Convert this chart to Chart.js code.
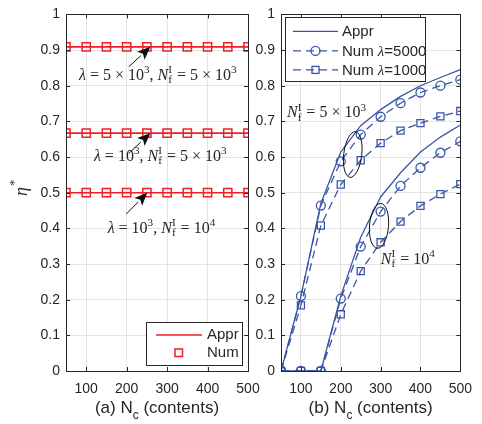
<!DOCTYPE html>
<html>
<head>
<meta charset="utf-8">
<script src="https://cdn.jsdelivr.net/npm/chart.js@4.4.1/dist/chart.umd.min.js"></script>
<style>
  html, body { margin: 0; padding: 0; background: #fff; }
  #wrap { position: relative; width: 482px; height: 424px; }
  #wrap canvas { position: absolute; left: 0; top: 0; }
</style>
</head>
<body>
<div id="wrap">
  <canvas id="chartA" width="482" height="424"></canvas>
  <canvas id="chartB" width="482" height="424"></canvas>
</div>
<script>
// N_c values (x axis of both panels)
const nc = [50, 100, 150, 200, 250, 300, 350, 400, 450, 500];
const xTicks = [100, 200, 300, 400, 500];
const yTicks = [0, 0.1, 0.2, 0.3, 0.4, 0.5, 0.6, 0.7, 0.8, 0.9, 1];
const yTickLabels = ['0', '0.1', '0.2', '0.3', '0.4', '0.5', '0.6', '0.7', '0.8', '0.9', '1'];

// panel (a): eta* flat lines
const etaA1 = [0.909, 0.909, 0.909, 0.909, 0.909, 0.909, 0.909, 0.909, 0.909, 0.909]; // lambda=5e3, Nf=5e3
const etaA2 = [0.667, 0.667, 0.667, 0.667, 0.667, 0.667, 0.667, 0.667, 0.667, 0.667]; // lambda=1e3, Nf=5e3
const etaA3 = [0.5, 0.5, 0.5, 0.5, 0.5, 0.5, 0.5, 0.5, 0.5, 0.5];                     // lambda=1e3, Nf=1e4

// panel (b): Nf = 5e3 (upper group) and Nf = 1e4 (lower group)
const apprHi    = [0, 0.21, 0.47, 0.614, 0.688, 0.733, 0.77, 0.80, 0.823, 0.845];
const num5000Hi = [0, 0.21, 0.464, 0.588, 0.663, 0.713, 0.751, 0.781, 0.80, 0.817];
const num1000Hi = [0, 0.184, 0.408, 0.523, 0.591, 0.639, 0.674, 0.695, 0.714, 0.729];
const apprLo    = [0, 0, 0, 0.21, 0.375, 0.488, 0.556, 0.614, 0.656, 0.69];
const num5000Lo = [0, 0, 0, 0.203, 0.349, 0.447, 0.519, 0.570, 0.612, 0.644];
const num1000Lo = [0, 0, 0, 0.159, 0.28, 0.361, 0.419, 0.463, 0.496, 0.524];

const RED = '#ee1f26';
const BLUE = '#3a55a6';
const INK = '#262626';
const SANS = '"Liberation Sans", Arial, sans-serif';
const SERIF = '"Liberation Serif", "DejaVu Serif", serif';

// draw a small TeX-like string: runs of [text, kind]
// kind: 'i' italic, 'r' roman, 's' sans, '^' superscript, 'ss' stacked sup/sub ([sup, sub])
function mathText(ctx, runs, x, y, size, align) {
  const items = runs.map(([t, k]) => {
    if (k === 'ss') {
      ctx.font = (size * 0.7) + 'px ' + SERIF;
      const w = Math.max(ctx.measureText(t[0]).width, ctx.measureText(t[1]).width);
      return { t, k, w: w + 1 };
    }
    if (k === 's') ctx.font = size + 'px ' + SANS;
    else if (k === 'i') ctx.font = 'italic ' + size + 'px ' + SERIF;
    else ctx.font = (k === '^' ? size * 0.7 : size) + 'px ' + SERIF;
    return { t, k, w: ctx.measureText(t).width };
  });
  const total = items.reduce((a, b) => a + b.w, 0);
  let cx = align === 'center' ? x - total / 2 : x;
  ctx.save();
  ctx.fillStyle = INK;
  ctx.textAlign = 'left';
  ctx.textBaseline = 'alphabetic';
  items.forEach(it => {
    if (it.k === 'ss') {
      ctx.font = (size * 0.7) + 'px ' + SERIF;
      ctx.fillText(it.t[0], cx, y - size * 0.42);
      ctx.fillText(it.t[1], cx, y + size * 0.22);
    } else if (it.k === '^') {
      ctx.font = (size * 0.7) + 'px ' + SERIF;
      ctx.fillText(it.t, cx, y - size * 0.42);
    } else if (it.k === 's') {
      ctx.font = size + 'px ' + SANS;
      ctx.fillText(it.t, cx, y);
    } else {
      ctx.font = (it.k === 'i' ? 'italic ' : '') + size + 'px ' + SERIF;
      ctx.fillText(it.t, cx, y);
    }
    cx += it.w;
  });
  ctx.restore();
  return total;
}

function arrow(ctx, x0, y0, x1, y1) {
  const a = Math.atan2(y1 - y0, x1 - x0);
  const L = 13, W = 5.5;
  const bx = x1 - L * Math.cos(a), by = y1 - L * Math.sin(a);
  ctx.save();
  ctx.strokeStyle = '#111';
  ctx.fillStyle = '#111';
  ctx.lineWidth = 1;
  ctx.beginPath();
  ctx.moveTo(x0, y0);
  ctx.lineTo(bx, by);
  ctx.stroke();
  ctx.beginPath();
  ctx.moveTo(x1, y1);
  ctx.lineTo(bx + W * Math.sin(a), by - W * Math.cos(a));
  ctx.lineTo(bx + 3 * Math.cos(a), by + 3 * Math.sin(a));
  ctx.lineTo(bx - W * Math.sin(a), by + W * Math.cos(a));
  ctx.closePath();
  ctx.fill();
  ctx.restore();
}

// box round the axes with inward ticks on every side
const boxPlugin = {
  id: 'box',
  afterDatasetsDraw(chart) {
    const { ctx, chartArea: a, scales } = chart;
    ctx.save();
    ctx.strokeStyle = INK;
    ctx.lineWidth = 1;
    ctx.beginPath();
    xTicks.forEach(v => {
      const px = Math.round(scales.x.getPixelForValue(v)) + 0.5;
      ctx.moveTo(px, a.bottom); ctx.lineTo(px, a.bottom - 4);
      ctx.moveTo(px, a.top); ctx.lineTo(px, a.top + 4);
    });
    yTicks.forEach(v => {
      const py = Math.round(scales.y.getPixelForValue(v)) + 0.5;
      ctx.moveTo(a.left, py); ctx.lineTo(a.left + 4, py);
      ctx.moveTo(a.right, py); ctx.lineTo(a.right - 4, py);
    });
    ctx.stroke();
    ctx.strokeRect(Math.round(a.left) + 0.5, Math.round(a.top) + 0.5,
      Math.round(a.right - a.left), Math.round(a.bottom - a.top));
    ctx.restore();
  }
};

function axisTitle(ctx, prefix, cx, baseline) {
  ctx.save();
  ctx.fillStyle = INK;
  ctx.textBaseline = 'alphabetic';
  ctx.textAlign = 'left';
  ctx.font = '17px ' + SANS;
  const w1 = ctx.measureText(prefix + ' N').width;
  const w3 = ctx.measureText(' (contents)').width;
  ctx.font = '12px ' + SANS;
  const w2 = ctx.measureText('c').width;
  let x = cx - (w1 + w2 + w3) / 2;
  ctx.font = '17px ' + SANS;
  ctx.fillText(prefix + ' N', x, baseline);
  ctx.font = '12px ' + SANS;
  ctx.fillText('c', x + w1, baseline + 6);
  ctx.font = '17px ' + SANS;
  ctx.fillText(' (contents)', x + w1 + w2, baseline);
  ctx.restore();
}

const annotA = {
  id: 'annotA',
  afterDraw(chart) {
    const { ctx, scales: { x, y }, chartArea: a } = chart;
    const px = v => x.getPixelForValue(v), py = v => y.getPixelForValue(v);
    arrow(ctx, px(205), py(0.853), px(258.5), py(0.909));
    arrow(ctx, px(205), py(0.61), px(258.5), py(0.667));
    arrow(ctx, px(199), py(0.44), px(251), py(0.5));
    mathText(ctx, [['λ', 'i'], [' = 5 × 10', 'r'], ['3', '^'], [', ', 'r'], ['N', 'i'], [['I', 'f'], 'ss'], [' = 5 × 10', 'r'], ['3', '^']],
      px(277), py(0.817), 16, 'center');
    mathText(ctx, [['λ', 'i'], [' = 10', 'r'], ['3', '^'], [', ', 'r'], ['N', 'i'], [['I', 'f'], 'ss'], [' = 5 × 10', 'r'], ['3', '^']],
      px(283), py(0.589), 16, 'center');
    mathText(ctx, [['λ', 'i'], [' = 10', 'r'], ['3', '^'], [', ', 'r'], ['N', 'i'], [['I', 'f'], 'ss'], [' = 10', 'r'], ['4', '^']],
      px(286), py(0.388), 16, 'center');

    // legend
    const lx = a.right - 102, ly = a.bottom - 49, lw = 96, lh = 43;
    ctx.save();
    ctx.fillStyle = '#fff';
    ctx.fillRect(lx, ly, lw, lh);
    ctx.strokeStyle = INK;
    ctx.lineWidth = 1;
    ctx.strokeRect(Math.round(lx) + 0.5, Math.round(ly) + 0.5, lw, lh);
    ctx.strokeStyle = RED;
    ctx.lineWidth = 1.5;
    ctx.beginPath();
    ctx.moveTo(lx + 10, ly + 13); ctx.lineTo(lx + 56, ly + 13);
    ctx.stroke();
    ctx.strokeRect(lx + 29, ly + 27, 7.5, 7.5);
    ctx.fillStyle = INK;
    ctx.font = '15px ' + SANS;
    ctx.textBaseline = 'middle';
    ctx.fillText('Appr', lx + 61, ly + 13);
    ctx.fillText('Num', lx + 61, ly + 31);
    ctx.restore();

    axisTitle(ctx, '(a)', (a.left + a.right) / 2, 413);

    // y label eta*
    ctx.save();
    ctx.translate(27, 196);
    ctx.rotate(-Math.PI / 2);
    ctx.fillStyle = INK;
    ctx.font = 'italic 18px ' + SERIF;
    ctx.fillText('η', 0, 0);
    ctx.font = '13px ' + SERIF;
    ctx.fillText('*', 10, -9);
    ctx.restore();
  }
};

const annotB = {
  id: 'annotB',
  afterDraw(chart) {
    const { ctx, scales: { x, y }, chartArea: a } = chart;
    const px = v => x.getPixelForValue(v), py = v => y.getPixelForValue(v);
    ctx.save();
    ctx.strokeStyle = '#111';
    ctx.lineWidth = 1;
    ctx.beginPath();
    ctx.ellipse(px(230), py(0.607), 9, 23, 0.12, 0, Math.PI * 2);
    ctx.stroke();
    ctx.beginPath();
    ctx.ellipse(px(296), py(0.407), 9.5, 22.5, 0.08, 0, Math.PI * 2);
    ctx.stroke();
    ctx.restore();
    mathText(ctx, [['N', 'i'], [['I', 'f'], 'ss'], [' = 5 × 10', 'r'], ['3', '^']], px(65), py(0.711), 16, 'left');
    mathText(ctx, [['N', 'i'], [['I', 'f'], 'ss'], [' = 10', 'r'], ['4', '^']], px(300.5), py(0.301), 16, 'left');

    // legend
    const lx = a.left + 4, ly = a.top + 3, lw = 140, lh = 64;
    ctx.save();
    ctx.fillStyle = '#fff';
    ctx.fillRect(lx, ly, lw, lh);
    ctx.strokeStyle = INK;
    ctx.lineWidth = 1;
    ctx.strokeRect(Math.round(lx) + 0.5, Math.round(ly) + 0.5, lw, lh);
    const rows = [ly + 14, ly + 33.5, ly + 52.5];
    ctx.strokeStyle = BLUE;
    ctx.lineWidth = 1.3;
    ctx.beginPath();
    ctx.moveTo(lx + 8, rows[0]); ctx.lineTo(lx + 53, rows[0]);
    ctx.stroke();
    ctx.setLineDash([8, 5]);
    [1, 2].forEach(i => {
      ctx.beginPath();
      ctx.moveTo(lx + 8, rows[i]); ctx.lineTo(lx + 53, rows[i]);
      ctx.stroke();
    });
    ctx.setLineDash([]);
    ctx.beginPath();
    ctx.arc(lx + 30.5, rows[1], 4.5, 0, Math.PI * 2);
    ctx.stroke();
    ctx.strokeRect(lx + 27, rows[2] - 3.5, 7, 7);
    ctx.fillStyle = INK;
    ctx.font = '15px ' + SANS;
    ctx.textBaseline = 'middle';
    ctx.fillText('Appr', lx + 57, rows[0]);
    ctx.restore();
    mathText(ctx, [['Num ', 's'], ['λ', 'i'], ['=5000', 's']], lx + 57, rows[1] + 5, 15, 'left');
    mathText(ctx, [['Num ', 's'], ['λ', 'i'], ['=1000', 's']], lx + 57, rows[2] + 5, 15, 'left');

    axisTitle(ctx, '(b)', (a.left + a.right) / 2, 413);
  }
};

function axes(yWidth) {
  return {
    x: {
      type: 'linear', min: 50, max: 500,
      afterBuildTicks: s => { s.ticks = xTicks.map(v => ({ value: v })); },
      afterFit: s => { s.height = 53; },
      grid: { color: '#e4e4e4', drawTicks: false },
      border: { display: false },
      ticks: { color: INK, font: { family: SANS, size: 14 }, padding: 10, maxRotation: 0 }
    },
    y: {
      type: 'linear', min: 0, max: 1,
      afterBuildTicks: s => { s.ticks = yTicks.map(v => ({ value: v })); },
      afterFit: s => { s.width = yWidth; },
      grid: { color: '#e4e4e4', drawTicks: false },
      border: { display: false },
      ticks: { color: INK, font: { family: SANS, size: 14 }, padding: 6,
        callback: (v, i) => yTickLabels[i] }
    }
  };
}

function pts(arr) { return arr.map((v, i) => ({ x: nc[i], y: v })); }

const common = {
  responsive: false,
  animation: false,
  plugins: { legend: { display: false }, tooltip: { enabled: false } },
  elements: { line: { tension: 0 } }
};

new Chart(document.getElementById('chartA'), {
  type: 'line',
  data: {
    datasets: [etaA1, etaA2, etaA3].flatMap(arr => [
      { label: 'Appr', data: pts(arr), borderColor: RED, borderWidth: 1.6, pointRadius: 0 },
      { label: 'Num', data: pts(arr), showLine: false, pointStyle: 'rect', pointRadius: 5.8,
        pointBorderWidth: 1.5, pointBorderColor: RED, pointBackgroundColor: 'rgba(0,0,0,0)' }
    ])
  },
  options: Object.assign({}, common, {
    layout: { padding: { left: 0, right: 234, top: 11, bottom: 0 } },
    scales: axes(66)
  }),
  plugins: [boxPlugin, annotA]
});

const dashed = [8, 5];
const circleSeries = { borderColor: BLUE, borderWidth: 1.3, borderDash: dashed, pointStyle: 'circle', pointRadius: 4.5,
  pointBorderWidth: 1.3, pointBorderColor: BLUE, pointBackgroundColor: 'rgba(0,0,0,0)' };
const squareSeries = { borderColor: BLUE, borderWidth: 1.3, borderDash: dashed, pointStyle: 'rect', pointRadius: 5,
  pointBorderWidth: 1.3, pointBorderColor: BLUE, pointBackgroundColor: 'rgba(0,0,0,0)' };

new Chart(document.getElementById('chartB'), {
  type: 'line',
  data: {
    datasets: [
      { label: 'Appr', data: pts(apprHi), borderColor: BLUE, borderWidth: 1.3, pointRadius: 0 },
      { label: 'Appr', data: pts(apprLo), borderColor: BLUE, borderWidth: 1.3, pointRadius: 0 },
      Object.assign({ label: 'Num λ=5000', data: pts(num5000Hi) }, circleSeries),
      Object.assign({ label: 'Num λ=5000', data: pts(num5000Lo) }, circleSeries),
      Object.assign({ label: 'Num λ=1000', data: pts(num1000Hi) }, squareSeries),
      Object.assign({ label: 'Num λ=1000', data: pts(num1000Lo) }, squareSeries)
    ]
  },
  options: Object.assign({}, common, {
    layout: { padding: { left: 248, right: 16, top: 11, bottom: 0 } },
    scales: axes(33)
  }),
  plugins: [boxPlugin, annotB]
});
</script>
</body>
</html>
